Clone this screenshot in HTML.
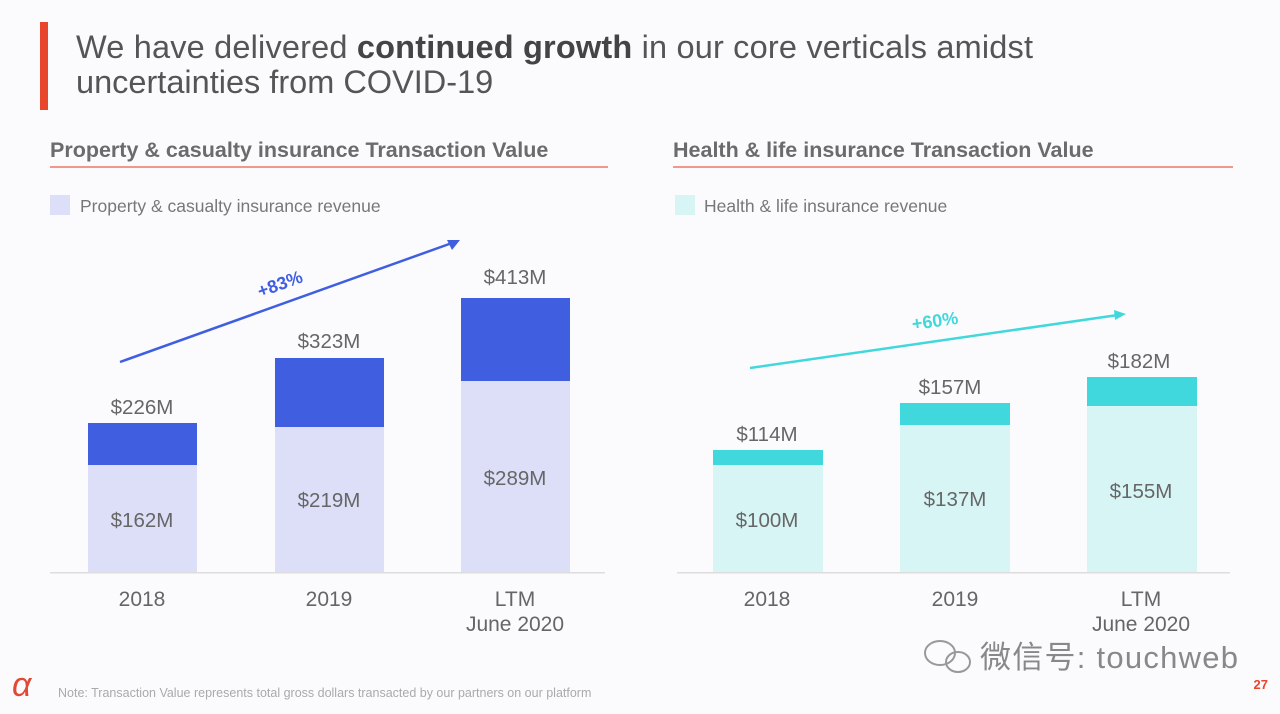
<!DOCTYPE html>
<html><head><meta charset="utf-8"><style>
body{margin:0;background:#fbfbfd;}
svg{display:block;font-family:"Liberation Sans","Noto Sans CJK SC",sans-serif;}
</style></head><body>
<svg width="1280" height="714" viewBox="0 0 1280 714">
<rect width="1280" height="714" fill="#fbfbfd"/>
<rect x="40" y="22" width="8" height="88" fill="#e8462c"/>
<text x="76" y="58" font-size="32.5" fill="#555" textLength="957">We have delivered <tspan font-weight="bold" fill="#444">continued growth</tspan> in our core verticals amidst</text>
<text x="76" y="93" font-size="32.5" fill="#555">uncertainties from COVID-19</text>

<text x="50" y="157" font-size="21.5" font-weight="bold" fill="#6b6b6b">Property &amp; casualty insurance Transaction Value</text>
<rect x="50" y="166" width="558" height="2" fill="#f0998a"/>
<rect x="50" y="195" width="20" height="20" fill="#dcdff7"/>
<text x="80" y="212" font-size="17.5" fill="#777">Property &amp; casualty insurance revenue</text>

<text x="673" y="157" font-size="21.5" font-weight="bold" fill="#6b6b6b">Health &amp; life insurance Transaction Value</text>
<rect x="673" y="166" width="560" height="2" fill="#f0998a"/>
<rect x="675" y="195" width="20" height="20" fill="#d8f5f6"/>
<text x="704" y="212" font-size="17.5" fill="#777">Health &amp; life insurance revenue</text>

<g>
<rect x="88" y="465" width="109" height="108" fill="#dcdff7"/><rect x="88" y="423" width="109" height="42" fill="#3f5fe0"/>
<rect x="275" y="427" width="109" height="146" fill="#dcdff7"/><rect x="275" y="358" width="109" height="69" fill="#3f5fe0"/>
<rect x="461" y="381" width="109" height="192" fill="#dcdff7"/><rect x="461" y="298" width="109" height="83" fill="#3f5fe0"/>
<rect x="50" y="572" width="555" height="1.5" fill="#ddd"/>
</g>
<g font-size="20.5" fill="#666" text-anchor="middle">
<text x="142" y="414">$226M</text><text x="142" y="527">$162M</text>
<text x="329" y="348">$323M</text><text x="329" y="507">$219M</text>
<text x="515" y="284">$413M</text><text x="515" y="485">$289M</text>
<text x="142" y="606" font-size="21">2018</text><text x="329" y="606" font-size="21">2019</text>
<text x="515" y="606" font-size="21">LTM</text><text x="515" y="631" font-size="21">June 2020</text>
</g>
<line x1="120" y1="362" x2="452" y2="243" stroke="#3f5fe0" stroke-width="2.5"/>
<polygon points="460,240 447,240 452,250" fill="#3f5fe0"/>
<text x="280" y="290" font-size="18" font-weight="bold" fill="#3f5fe0" text-anchor="middle" transform="rotate(-20 280 284)">+83%</text>

<g>
<rect x="713" y="465" width="110" height="108" fill="#d8f5f6"/><rect x="713" y="450" width="110" height="15" fill="#40d8dc"/>
<rect x="900" y="425" width="110" height="148" fill="#d8f5f6"/><rect x="900" y="403" width="110" height="22" fill="#40d8dc"/>
<rect x="1087" y="406" width="110" height="167" fill="#d8f5f6"/><rect x="1087" y="377" width="110" height="29" fill="#40d8dc"/>
<rect x="677" y="572" width="553" height="1.5" fill="#ddd"/>
</g>
<g font-size="20.5" fill="#666" text-anchor="middle">
<text x="767" y="441">$114M</text><text x="767" y="527">$100M</text>
<text x="950" y="394">$157M</text><text x="955" y="506">$137M</text>
<text x="1139" y="368">$182M</text><text x="1141" y="498">$155M</text>
<text x="767" y="606" font-size="21">2018</text><text x="955" y="606" font-size="21">2019</text>
<text x="1141" y="606" font-size="21">LTM</text><text x="1141" y="631" font-size="21">June 2020</text>
</g>
<line x1="750" y1="368" x2="1118" y2="315" stroke="#40d8dc" stroke-width="2.5"/>
<polygon points="1126,314 1114,310 1115,320" fill="#40d8dc"/>
<text x="935" y="327" font-size="18" font-weight="bold" fill="#40d8dc" text-anchor="middle" transform="rotate(-8 935 321)">+60%</text>

<text x="12" y="696" font-size="34" fill="#e04a35" font-style="italic">α</text>
<text x="58" y="697" font-size="12.5" fill="#aaa">Note: Transaction Value represents total gross dollars transacted by our partners on our platform</text>
<text x="1268" y="689" font-size="13" fill="#e8462c" font-weight="bold" text-anchor="end">27</text>
<g fill="none" stroke="#999" stroke-width="2"><ellipse cx="940" cy="653" rx="15" ry="12"/><ellipse cx="958" cy="662" rx="12" ry="10"/></g>
<text x="980" y="668" font-size="31" fill="#888" textLength="258">微信号: touchweb</text>
</svg>
</body></html>
